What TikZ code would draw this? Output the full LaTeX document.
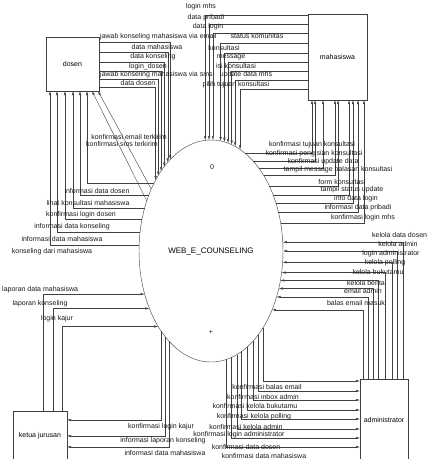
\documentclass[tikz,border=0pt]{standalone}
\usepackage{fontspec}
\setmainfont{Liberation Sans}
\usetikzlibrary{shapes.geometric,arrows.meta}

\tikzset{
  entity/.style={draw=black!75, line width=.45pt, fill=white, inner sep=0pt, outer sep=0pt, font=\fontsize{7}{8}\selectfont},
  process/.style={ellipse, draw=black!70, line width=.45pt, inner sep=0pt, outer sep=0pt, minimum width=144pt, minimum height=222pt, font=\fontsize{8}{9}\selectfont},
  flow/.style={draw=black!75, line width=.4pt, -{Latex[length=4pt,width=2.4pt]}},
  flowlabel/.style={font=\fontsize{7}{8}\selectfont, inner sep=0pt, text=black!90},
}

\begin{document}
\begin{tikzpicture}[x=1pt, y=-1pt]
  % same size as the scan (428 x 459)
  \clip (0,0) rectangle (428,459);

  % process
  \node[process] (proc) at (211,251) {WEB\_E\_COUNSELING};
  \node[flowlabel] (procno) at (212,167) {0};
  \node[flowlabel] (procplus) at (211,332) {+};

  % external entities
  \node[entity, minimum width=53pt, minimum height=54pt] (dosen) at (72.5,64) {dosen};
  \node[entity, minimum width=59pt, minimum height=86pt] (mhs) at (337.5,57) {mahasiswa};
  \node[entity, minimum width=54pt, minimum height=49pt] (kajur) at (40,435.5) {ketua jurusan};
  \node[entity, minimum width=48pt, minimum height=81pt] (admin) at (384,419.5) {administrator};

  % dosen -> proses
  \draw[flow] ([yshift=-5pt]dosen.north east) -| (proc.114.2);
  \draw[flow] ([yshift=-15pt]dosen.north east) -| (proc.116.6);
  \draw[flow] ([yshift=-25pt]dosen.north east) -| (proc.119.2);
  \draw[flow] ([yshift=-34pt]dosen.north east) -| (proc.122.0);
  \draw[flow] ([yshift=-42pt]dosen.north east) -| (proc.125.2);
  \draw[flow] ([yshift=-50pt]dosen.north east) -| (proc.128.7);
  \node[flowlabel, anchor=west] (l-jwbemail) at (100,37) {jawab konseling mahasiswa via email};
  \node[flowlabel] (l-datamhs) at (157,47) {data mahasiswa};
  \node[flowlabel] (l-datakons) at (153,57) {data konseling};
  \node[flowlabel] (l-logindsn) at (148,67) {login\_dosen};
  \node[flowlabel, anchor=west] (l-jwbsms) at (100,75) {jawab konseling mahasiswa via sms};
  \node[flowlabel] (l-datadsn) at (138,83) {data dosen};

  % proses -> dosen
  \draw[flow] (proc.130.6) -| ([xshift=41pt]dosen.south west);
  \draw[flow] (proc.138.6) -| ([xshift=34pt]dosen.south west);
  \draw[flow] (proc.147.1) -| ([xshift=27pt]dosen.south west);
  \draw[flow] (proc.155.8) -| ([xshift=19pt]dosen.south west);
  \draw[flow] (proc.165.0) -| ([xshift=11pt]dosen.south west);
  \draw[flow] (proc.175.2) -| ([xshift=4pt]dosen.south west);
  \draw[flow] (proc.134) -- ([xshift=-1pt]dosen.south east);
  \draw[flow] (proc.142) -- ([xshift=-7pt]dosen.south east);
  \node[flowlabel] (l-kemail) at (129,137) {konfirmasi email terkirim};
  \node[flowlabel] (l-ksms) at (122,144) {konfirmasi sms terkirim};
  \node[flowlabel] (l-infodsn) at (97,191) {informasi data dosen};
  \node[flowlabel] (l-lihatkons) at (88,203) {lihat konsultasi mahasiswa};
  \node[flowlabel] (l-klogindsn) at (81,215) {konfirmasi login dosen};
  \node[flowlabel] (l-infokons) at (72,227) {informasi data konseling};
  \node[flowlabel] (l-infomhs) at (62,239) {informasi data mahasiswa};
  \node[flowlabel] (l-konsdari) at (52,252) {konseling dari mahasiswa};

  % mahasiswa -> proses
  \draw[flow] ([yshift=-1pt]mhs.north west) -| (proc.93.1);
  \draw[flow] ([yshift=-10pt]mhs.north west) -| (proc.91.0);
  \draw[flow] ([yshift=-19pt]mhs.north west) -| (proc.89.0);
  \draw[flow] ([yshift=-29pt]mhs.north west) -| (proc.85.9);
  \draw[flow] ([yshift=-39pt]mhs.north west) -| (proc.83.7);
  \draw[flow] ([yshift=-48pt]mhs.north west) -| (proc.81.6);
  \draw[flow] ([yshift=-57pt]mhs.north west) -| (proc.79.4);
  \draw[flow] ([yshift=-66pt]mhs.north west) -| (proc.77.1);
  \draw[flow] ([yshift=-75pt]mhs.north west) -| (proc.74.1);
  \node[flowlabel] (l-loginmhs) at (201,7) {login mhs};
  \node[flowlabel] (l-pribadi) at (206,18) {data pribadi};
  \node[flowlabel] (l-datalogin) at (208,27) {data login};
  \node[flowlabel] (l-status) at (257,36) {status komunitas};
  \node[flowlabel] (l-konsul) at (224,48) {konsultasi};
  \node[flowlabel] (l-message) at (231,57) {message};
  \node[flowlabel] (l-isikons) at (236,66) {isi konsultasi};
  \node[flowlabel] (l-updmhs) at (246,75) {update data mhs};
  \node[flowlabel] (l-pilih) at (236,85) {pilih tujuan konsultasi};

  % proses -> mahasiswa
  \draw[flow] (proc.71.8) -| ([xshift=4pt]mhs.south west);
  \draw[flow] (proc.65.6) -| ([xshift=7pt]mhs.south west);
  \draw[flow] (proc.60.7) -| ([xshift=15pt]mhs.south west);
  \draw[flow] (proc.55.4) -| ([xshift=27pt]mhs.south west);
  \draw[flow] (proc.48.1) -| ([xshift=30pt]mhs.south west);
  \draw[flow] (proc.42.7) -| ([xshift=41pt]mhs.south west);
  \draw[flow] (proc.36.5) -| ([xshift=45pt]mhs.south west);
  \draw[flow] (proc.30.1) -| ([xshift=50pt]mhs.south west);
  \draw[flow] (proc.22.7) -| ([xshift=56pt]mhs.south west);
  \node[flowlabel] (l-ktujuan) at (312,145) {konfirmasi tujuan konsultasi};
  \node[flowlabel] (l-kisi) at (314,154) {konfirmasi pengisian konsultasi};
  \node[flowlabel] (l-kupd) at (323,162) {konfirmasi update data};
  \node[flowlabel] (l-tmsg) at (338,170) {tampil message balasan konsultasi};
  \node[flowlabel] (l-form) at (342,182) {form konsultasi};
  \node[flowlabel] (l-tstatus) at (352,190) {tampil status update};
  \node[flowlabel] (l-infologin) at (356,199) {info data login};
  \node[flowlabel] (l-infopribadi) at (358,208) {informasi data pribadi};
  \node[flowlabel] (l-kloginmhs) at (363,218) {konfirmasi login mhs};

  % administrator -> proses
  \draw[flow] ([xshift=43pt]admin.north west) |- (proc.7.1);
  \draw[flow] ([xshift=37pt]admin.north west) |- (proc.0);
  \draw[flow] ([xshift=32pt]admin.north west) |- (proc.351.3);
  \draw[flow] ([xshift=25pt]admin.north west) |- (proc.343.5);
  \draw[flow] ([xshift=18pt]admin.north west) |- (proc.337.3);
  \draw[flow] ([xshift=13pt]admin.north west) |- (proc.331.4);
  \draw[flow] ([xshift=8pt]admin.north west) |- (proc.325.6);
  \draw[flow] ([xshift=3pt]admin.north west) |- (proc.316.0);
  \node[flowlabel, anchor=west] (l-kdosen) at (372,235) {kelola data dosen};
  \node[flowlabel] (l-kadmin) at (398,244) {kelola admin};
  \node[flowlabel] (l-loginadm) at (391,254) {login administrator};
  \node[flowlabel] (l-kpolling) at (385,263) {kelola polling};
  \node[flowlabel] (l-kbuku) at (378,272) {kelola bukutamu};
  \node[flowlabel] (l-kberita) at (366,283) {kelola berita};
  \node[flowlabel] (l-emailadm) at (363,291) {email admin};
  \node[flowlabel] (l-balas) at (356,303) {balas email masuk};

  % proses -> administrator
  \draw[flow] (proc.304.1) |- ([yshift=-2pt]admin.north west);
  \draw[flow] (proc.299.2) |- ([yshift=-12pt]admin.north west);
  \draw[flow] (proc.295.0) |- ([yshift=-21pt]admin.north west);
  \draw[flow] (proc.291.2) |- ([yshift=-31pt]admin.north west);
  \draw[flow] (proc.287.8) |- ([yshift=-40pt]admin.north west);
  \draw[flow] (proc.284.7) |- ([yshift=-50pt]admin.north west);
  \draw[flow] (proc.281.8) |- ([yshift=-59pt]admin.north west);
  \draw[flow] (proc.278.4) |- ([yshift=-68pt]admin.north west);
  \node[flowlabel] (l-kbalas) at (267,387) {konfirmasi balas email};
  \node[flowlabel] (l-kinbox) at (263,397) {konfirmasi inbox admin};
  \node[flowlabel] (l-kkbuku) at (255,406) {konfirmasi kelola bukutamu};
  \node[flowlabel] (l-kkpolling) at (254,417) {konfirmasi kelola polling};
  \node[flowlabel] (l-kkadmin) at (246,427) {konfirmasi kelola admin};
  \node[flowlabel] (l-kloginadm) at (239,435) {konfirmasi login administrator};
  \node[flowlabel] (l-kdatadsn) at (246,447) {konfirmasi data dosen};
  \node[flowlabel] (l-kdatamhs) at (264,456) {konfirmasi data mahasiswa};

  % ketua jurusan -> proses
  \draw[flow] ([xshift=30pt]kajur.north west) |- (proc.213.7);
  \draw[flow] ([xshift=40pt]kajur.north west) |- (proc.223.4);
  \draw[flow] ([xshift=49pt]kajur.north west) |- (proc.235.4);
  \node[flowlabel, anchor=west] (l-lapmhs) at (2,290) {laporan data mahasiswa};
  \node[flowlabel] (l-lapkons) at (40,304) {laporan konseling};
  \node[flowlabel] (l-loginkajur) at (57,319) {login kajur};

  % proses -> ketua jurusan
  \draw[flow] (proc.238.9) |- ([yshift=-9pt]kajur.north east);
  \draw[flow] (proc.242.6) |- ([yshift=-25pt]kajur.north east);
  \draw[flow] (proc.245.8) |- ([yshift=-36pt]kajur.north east);
  \node[flowlabel] (l-kloginkajur) at (161,427) {konfirmasi login kajur};
  \node[flowlabel] (l-inflap) at (163,441) {informasi laporan konseling};
  \node[flowlabel] (l-infmhs) at (165,453) {informasi data mahasiswa};
\end{tikzpicture}
\end{document}
